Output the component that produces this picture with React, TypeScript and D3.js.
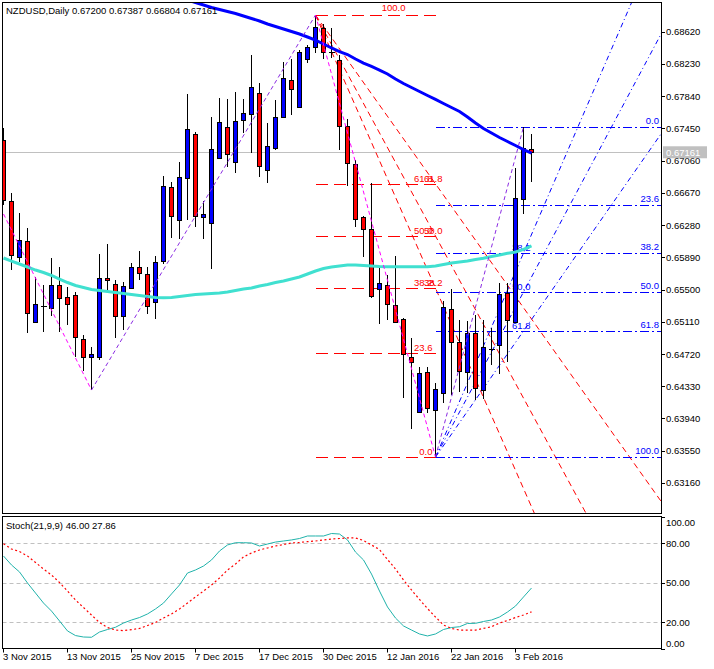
import * as d3 from "d3";

// bars: 3 Nov 2015 .. 5 Feb 2016 (daily)
const opens = [
  0.67309, 0.66571, 0.65894, 0.66087, 0.65107, 0.65312, 0.65277, 0.65555, 0.6541, 0.65434,
  0.64901, 0.64684, 0.64684, 0.6564, 0.65567, 0.6518, 0.65518, 0.65773, 0.65688, 0.65349,
  0.65845, 0.66741, 0.66341, 0.6685, 0.67382, 0.66378, 0.66305, 0.67092, 0.67467, 0.67043,
  0.67551, 0.67624, 0.67878, 0.66946, 0.67213, 0.67588, 0.68036, 0.67709, 0.6829, 0.68435,
  0.68665, 0.68386, 0.68278, 0.67479, 0.67019, 0.66378, 0.66232, 0.65506, 0.65555, 0.65313,
  0.65143, 0.64684, 0.64018, 0.64502, 0.64042, 0.64248, 0.65264, 0.64865, 0.64502, 0.64974,
  0.64284, 0.6478, 0.64829, 0.65458, 0.65107, 0.66596, 0.672,
];
const highs = [
  0.67455, 0.66668, 0.66426, 0.66245, 0.65652, 0.65555, 0.65882, 0.65773, 0.65531, 0.6547,
  0.6495, 0.64805, 0.6593, 0.66051, 0.65616, 0.65591, 0.65821, 0.65966, 0.65773, 0.65906,
  0.66874, 0.66801, 0.67043, 0.67866, 0.67406, 0.66571, 0.67588, 0.67818, 0.67806, 0.6789,
  0.67806, 0.68338, 0.68, 0.67515, 0.67793, 0.68253, 0.6829, 0.68398, 0.68459, 0.68822,
  0.68713, 0.68665, 0.68338, 0.67564, 0.67067, 0.6639, 0.66789, 0.65761, 0.65676, 0.65906,
  0.65155, 0.64913, 0.64562, 0.64562, 0.64369, 0.65361, 0.65506, 0.65131, 0.65119, 0.65192,
  0.65131, 0.65034, 0.65579, 0.65579, 0.66971, 0.67467, 0.67387,
];
const lows = [
  0.66523, 0.65736, 0.65833, 0.64974, 0.651, 0.64986, 0.6518, 0.64986, 0.65071, 0.64684,
  0.64514, 0.64284, 0.64647, 0.65494, 0.64913, 0.6501, 0.65506, 0.65616, 0.65204, 0.65143,
  0.65809, 0.66124, 0.66111, 0.66341, 0.66257, 0.66111, 0.65748, 0.6708, 0.66983, 0.6691,
  0.67394, 0.67152, 0.66862, 0.66789, 0.67188, 0.67576, 0.67612, 0.67697, 0.68241, 0.68362,
  0.6829, 0.68302, 0.67188, 0.66753, 0.66257, 0.65894, 0.65397, 0.65083, 0.65131, 0.65095,
  0.64187, 0.63812, 0.64006, 0.64006, 0.63473, 0.64127, 0.64224, 0.6426, 0.64248, 0.64163,
  0.64175, 0.64587, 0.64478, 0.64623, 0.651, 0.66414, 0.66804,
];
const closes = [
  0.66583, 0.65918, 0.66099, 0.65216, 0.65325, 0.65306, 0.65555, 0.65398, 0.65325, 0.64926,
  0.64684, 0.6472, 0.6564, 0.65616, 0.6518, 0.65543, 0.65773, 0.657, 0.65301, 0.65833,
  0.66753, 0.6639, 0.66862, 0.67443, 0.6639, 0.66414, 0.67201, 0.67527, 0.6714, 0.67539,
  0.67636, 0.67951, 0.66995, 0.67237, 0.67588, 0.6806, 0.67927, 0.68374, 0.68435, 0.68677,
  0.68374, 0.6838, 0.67479, 0.67031, 0.66354, 0.66232, 0.65422, 0.65579, 0.65325, 0.65107,
  0.6472, 0.64623, 0.6449, 0.64066, 0.64296, 0.65289, 0.64865, 0.64514, 0.64974, 0.64308,
  0.64805, 0.64776, 0.65446, 0.65131, 0.66608, 0.67213, 0.67161,
];

// long MA (blue), starts at bar 21 (earlier values are above the window)
const slowMaStart = 21;
const slowMa = [
  0.69064, 0.69034, 0.69004, 0.68973, 0.68943, 0.68913, 0.68889, 0.68864, 0.6884, 0.6881,
  0.6878, 0.68749, 0.68713, 0.68683, 0.68653, 0.68622, 0.68592, 0.68556, 0.68519, 0.68471,
  0.68423, 0.6838, 0.68344, 0.6829, 0.68241, 0.68199, 0.68156, 0.68108, 0.68048, 0.67993,
  0.67945, 0.67896, 0.67848, 0.678, 0.67751, 0.67703, 0.67654, 0.67588, 0.67515, 0.67449,
  0.67394, 0.6734, 0.67291, 0.67243, 0.67194, 0.67152,
];
// shorter MA (turquoise)
const fastMa = [
  0.65882, 0.65845, 0.65809, 0.65773, 0.65736, 0.65706, 0.6567, 0.65627, 0.65585, 0.65549,
  0.65525, 0.655, 0.65488, 0.65476, 0.65464, 0.65452, 0.6544, 0.65428, 0.65416, 0.65404,
  0.65401, 0.65404, 0.65416, 0.65428, 0.6544, 0.65446, 0.65452, 0.65458, 0.6547, 0.65488,
  0.65506, 0.65518, 0.65543, 0.65561, 0.65585, 0.65603, 0.65627, 0.65652, 0.65688, 0.65724,
  0.65754, 0.65773, 0.65785, 0.65797, 0.65797, 0.65791, 0.65785, 0.65779, 0.65776, 0.65776,
  0.65776, 0.65776, 0.65776, 0.65776, 0.65785, 0.65803, 0.65821, 0.65833, 0.65845, 0.65863,
  0.65878, 0.659, 0.65918, 0.65938, 0.65954, 0.65985, 0.66027,
];

const stochMain = [
  70.3, 63.5, 58.2, 49.8, 42.2, 34.6, 28.5, 21.0, 13.4, 9.9,
  8.8, 8.6, 12.6, 14.5, 16.2, 19.4, 21.7, 23.6, 26.3, 30.1,
  34.6, 41.5, 48.3, 57.4, 59.7, 62.7, 67.3, 74.1, 78.7, 80.4,
  80.4, 80.2, 77.9, 79.4, 80.9, 81.7, 82.5, 83.6, 85.5, 85.5,
  85.5, 87.4, 87.0, 82.5, 73.3, 67.3, 56.6, 43.7, 31.6, 23.2,
  17.2, 14.1, 11.1, 9.6, 11.1, 14.5, 16.0, 16.6, 19.1, 19.2,
  20.6, 21.7, 24.0, 27.8, 32.3, 39.2, 46.0,
];
const stochSignal = [
  79.7, 75.6, 73.7, 70.3, 65.4, 60.4, 55.9, 50.2, 43.7, 36.9,
  31.2, 25.5, 19.8, 16.0, 14.1, 13.6, 14.4, 15.3, 17.5, 19.8,
  23.2, 26.3, 30.1, 34.6, 39.2, 43.7, 48.3, 53.6, 59.7, 64.2,
  69.6, 72.6, 74.9, 76.4, 77.9, 79.0, 80.2, 80.6, 81.2, 81.7,
  82.5, 83.2, 83.6, 84.0, 84.0, 82.1, 78.7, 75.2, 67.7, 60.4,
  52.1, 44.5, 37.3, 30.4, 24.0, 17.9, 15.3, 14.1, 14.1, 14.1,
  15.3, 16.6, 19.4, 21.3, 23.6, 25.5, 27.86,
];

const dateTicks = [0, 8, 16, 24, 32, 40, 48, 56, 64];
const dateLabels = [
  "3 Nov 2015", "13 Nov 2015", "25 Nov 2015", "7 Dec 2015", "17 Dec 2015",
  "30 Dec 2015", "12 Jan 2016", "22 Jan 2016", "3 Feb 2016",
];
const priceTicks = [
  0.6862, 0.6823, 0.6784, 0.6745, 0.6706, 0.6667, 0.6628, 0.6589, 0.655, 0.6511,
  0.6472, 0.6433, 0.6394, 0.6355, 0.6316,
];
const stochTicks = [100, 80, 50, 20, 0];
const stochLevels = [80, 50, 20];

// zigzag pivots [bar, price]
const zigzag: [number, number][] = [
  [0, 0.66414], [11, 0.64284], [39, 0.68822], [54, 0.63473], [65, 0.67467],
];
const fibLevels = [0, 23.6, 38.2, 50, 61.8, 100];
const fanLevels = [38.2, 50, 61.8];
const downSwing = { from: 39, to: 54, high: 0.68822, low: 0.63473 };
const upSwing = { from: 54, to: 65, low: 0.63473, high: 0.67467 };
const lastPrice = 0.67161;

const W = 714;
const H = 669;
const left = 2.5;
const right = 661;
const mainTop = 2.5;
const mainBottom = 513.5;
const subTop = 516.5;
const subBottom = 648.5;

const FONT = "'Liberation Sans', Arial, sans-serif";
const BULL = "#0000ff";
const BEAR = "#ff0000";

export default function App() {
  const x = d3.scaleLinear().domain([0, 66]).range([3.5, 531.5]);
  const y = d3.scaleLinear().domain([0.6355, 0.6862]).range([450.7, 31.7]);
  const ys = d3.scaleLinear().domain([0, 100]).range([648.6, 516.9]);

  const fmt = d3.format(".5f");

  const slowLine = d3
    .line<number>()
    .x((_, i) => x(i + slowMaStart))
    .y((d) => y(d));
  const fastLine = d3
    .line<number>()
    .x((_, i) => x(i))
    .y((d) => y(d));
  const stLine = d3
    .line<number>()
    .x((_, i) => x(i))
    .y((d) => ys(d));

  // ray through two points, extended past the right edge
  const ray = (x1: number, y1: number, x2: number, y2: number) => {
    const k = (y2 - y1) / (x2 - x1);
    const xe = right + 5;
    return `M${x1},${y1}L${xe},${y1 + k * (xe - x1)}`;
  };

  const dRange = downSwing.high - downSwing.low;
  const uRange = upSwing.high - upSwing.low;
  const redLevelY = (lv: number) => y(downSwing.low + (lv / 100) * dRange);
  const blueLevelY = (lv: number) => y(upSwing.high - (lv / 100) * uRange);
  const crisp = (v: number) => Math.round(v) + 0.5;

  return (
    <svg
      width={W}
      height={H}
      style={{ position: "absolute", left: 0, top: 0, background: "#fff" }}
      fontFamily={FONT}
    >
      <defs>
        <clipPath id="mainClip">
          <rect x={left} y={mainTop} width={right - left} height={mainBottom - mainTop} />
        </clipPath>
        <clipPath id="subClip">
          <rect x={left} y={subTop} width={right - left} height={subBottom - subTop} />
        </clipPath>
      </defs>

      <g clipPath="url(#mainClip)">
        {/* last price line */}
        <line x1={left} x2={right} y1={crisp(y(lastPrice))} y2={crisp(y(lastPrice))} stroke="#c0c0c0" />

        {/* red fibo retracement */}
        {fibLevels.map((lv) => (
          <line
            key={"rf" + lv}
            x1={x(downSwing.from)}
            x2={x(downSwing.to)}
            y1={crisp(redLevelY(lv))}
            y2={crisp(redLevelY(lv))}
            stroke={BEAR}
            strokeDasharray="12,6"
            shapeRendering="crispEdges"
          />
        ))}
        {/* red fan */}
        {fanLevels.map((lv) => (
          <path
            key={"rfan" + lv}
            d={ray(x(downSwing.from), y(downSwing.high), x(downSwing.to), redLevelY(lv))}
            stroke={BEAR}
            strokeDasharray="6,4"
            fill="none"
          />
        ))}

        {/* blue fibo retracement with ray */}
        {fibLevels.map((lv) => (
          <line
            key={"bf" + lv}
            x1={x(upSwing.from)}
            x2={right}
            y1={crisp(blueLevelY(lv))}
            y2={crisp(blueLevelY(lv))}
            stroke={BULL}
            strokeDasharray="9,3,2,3"
            shapeRendering="crispEdges"
          />
        ))}
        {/* blue fan */}
        {fanLevels.map((lv) => (
          <path
            key={"bfan" + lv}
            d={ray(x(upSwing.from), y(upSwing.low), x(upSwing.to), blueLevelY(lv))}
            stroke={BULL}
            strokeDasharray="5,3,1,3"
            fill="none"
          />
        ))}

        {/* fan labels of the up swing, partly under the candles */}
        {fanLevels.map((lv) => (
          <text key={"bfl" + lv} x={x(upSwing.to) + 7} y={blueLevelY(lv) - 2} fontSize={9.5} fill={BULL} textAnchor="end">
            {lv.toFixed(1)}
          </text>
        ))}

        {/* candles */}
        {opens.map((o, i) => {
          const c = closes[i];
          const cx = x(i);
          const yo = y(o);
          const yc = y(c);
          const top = Math.min(yo, yc);
          const h = Math.abs(yo - yc);
          return (
            <g key={"c" + i} shapeRendering="crispEdges">
              <line x1={cx} x2={cx} y1={y(highs[i])} y2={y(lows[i])} stroke="#000" />
              {h < 1.5 ? (
                <line x1={cx - 3} x2={cx + 3} y1={crisp(yc)} y2={crisp(yc)} stroke="#000" />
              ) : (
                <rect
                  x={cx - 2}
                  y={crisp(top)}
                  width={4}
                  height={Math.max(1, Math.round(h))}
                  fill={c >= o ? BULL : BEAR}
                  stroke="#000"
                />
              )}
            </g>
          );
        })}

        {/* moving averages */}
        <path d={fastLine(fastMa) ?? ""} fill="none" stroke="#40e0d0" strokeWidth={3} />
        <path d={slowLine(slowMa) ?? ""} fill="none" stroke="#0000ff" strokeWidth={3} />

        {/* zigzag */}
        {zigzag.slice(1).map((p, i) => {
          const a = zigzag[i];
          const down = p[1] < a[1];
          return (
            <line
              key={"z" + i}
              x1={x(a[0])}
              y1={y(a[1])}
              x2={x(p[0])}
              y2={y(p[1])}
              stroke={down ? "#ff00ff" : "#8a2be2"}
              strokeDasharray="4,3"
            />
          );
        })}

        {/* red labels */}
        {fibLevels.map((lv) =>
          lv === 100 ? (
            <text key={"rl" + lv} x={x(50) + 2} y={redLevelY(lv) - 4} fontSize={9.5} fill={BEAR} textAnchor="end">
              {lv.toFixed(1)}
            </text>
          ) : (
            <text key={"rl" + lv} x={x(downSwing.to) - 3} y={redLevelY(lv) - 2} fontSize={9.5} fill={BEAR} textAnchor="end">
              {lv.toFixed(1)}
            </text>
          )
        )}
        {fanLevels.map((lv) => (
          <text key={"rfl" + lv} x={x(downSwing.to) + 7} y={redLevelY(lv) - 2} fontSize={9.5} fill={BEAR} textAnchor="end">
            {lv.toFixed(1)}
          </text>
        ))}
        {/* blue labels at right edge */}
        {fibLevels.map((lv) => (
          <text key={"bl" + lv} x={right - 2} y={blueLevelY(lv) - 3} fontSize={9.5} fill={BULL} textAnchor="end">
            {lv.toFixed(1)}
          </text>
        ))}
      </g>

      {/* header */}
      <text x={6} y={14} fontSize={9.5} fill="#000">
        {"NZDUSD,Daily  " + [opens[66], highs[66], lows[66], closes[66]].map(fmt).join(" ")}
      </text>

      {/* stochastic panel */}
      <g clipPath="url(#subClip)">
        {stochLevels.map((lv) => (
          <line
            key={"sl" + lv}
            x1={left}
            x2={right}
            y1={crisp(ys(lv))}
            y2={crisp(ys(lv))}
            stroke="#c0c0c0"
            strokeDasharray="4,3"
          />
        ))}
        <path d={stLine(stochMain) ?? ""} fill="none" stroke="#20b2aa" strokeWidth={1} />
        <path d={stLine(stochSignal) ?? ""} fill="none" stroke="#ff0000" strokeWidth={1.2} strokeDasharray="2,2.5" />
      </g>
      <text x={6} y={529} fontSize={9.5} fill="#000">
        {`Stoch(21,9,9) ${stochMain[66].toFixed(2)} ${stochSignal[66].toFixed(2)}`}
      </text>

      {/* frames */}
      <g fill="none" stroke="#000" shapeRendering="crispEdges">
        <rect x={left} y={mainTop} width={right - left} height={mainBottom - mainTop} />
        <rect x={left} y={subTop} width={right - left} height={subBottom - subTop} />
      </g>

      {/* price axis */}
      <g fontSize={9.5} fill="#000">
        {priceTicks.map((p) => (
          <g key={"pt" + p}>
            <line x1={right} x2={right + 4} y1={crisp(y(p))} y2={crisp(y(p))} stroke="#000" />
            <text x={right + 5} y={y(p) + 3.5}>
              {fmt(p)}
            </text>
          </g>
        ))}
        <rect x={right + 2} y={y(lastPrice) - 6} width={44} height={12} fill="#c0c0c0" />
        <text x={right + 5} y={y(lastPrice) + 3.5} fill="#fff">
          {fmt(lastPrice)}
        </text>
      </g>

      {/* stochastic axis */}
      <g fontSize={9.5} fill="#000">
        {stochTicks.map((v) => {
          const off = v === 100 ? 9 : v === 0 ? -2 : 3.5;
          return (
            <g key={"st" + v}>
              <line x1={right} x2={right + 4} y1={crisp(ys(v))} y2={crisp(ys(v))} stroke="#000" />
              <text x={right + 5} y={ys(v) + off}>
                {v.toFixed(2)}
              </text>
            </g>
          );
        })}
      </g>

      {/* time axis */}
      <g fontSize={9.5} fill="#000">
        {dateTicks.map((b, i) => (
          <g key={"dt" + b}>
            <line x1={Math.round(x(b)) - 0.5} x2={Math.round(x(b)) - 0.5} y1={subBottom} y2={subBottom + 4} stroke="#000" />
            <text x={x(b) - 0.5} y={660}>
              {dateLabels[i]}
            </text>
          </g>
        ))}
      </g>
    </svg>
  );
}
